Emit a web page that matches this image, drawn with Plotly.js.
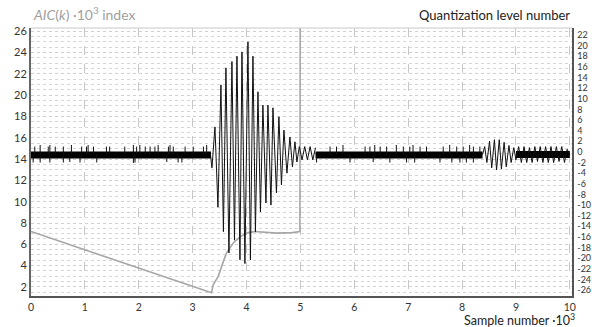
<!DOCTYPE html>
<html>
<head>
<meta charset="utf-8">
<script src="https://cdn.plot.ly/plotly-3.0.1.min.js"></script>
<style>html,body{margin:0;padding:0;background:#fff;}#chart{width:592px;height:327px;}</style>
</head>
<body>
<div id="chart"></div>
<script>
// AIC(k) curve (left axis, x10^3 index) vs sample number (x10^3)
const aicX = [0, 3.35, 3.38, 3.475, 3.57, 3.63, 3.75, 3.88, 4.03, 4.16, 4.56, 4.85, 4.99, 5.0];
const aicY = [7.2, 1.45, 2.2, 3.0, 4.4, 5.2, 6.1, 6.7, 7.1, 7.2, 7.05, 7.1, 7.2, 40];

// Quantized signal: main burst and the tail oscillations (right axis, level number)
const burstX = [3.33, 3.358, 3.414, 3.469, 3.525, 3.571, 3.618, 3.673, 3.729, 3.776, 3.822, 3.878, 3.915, 3.970, 4.026, 4.072, 4.119, 4.165, 4.212, 4.258, 4.304, 4.360, 4.397, 4.453, 4.490, 4.555, 4.601, 4.648, 4.694, 4.750, 4.805, 4.852, 4.898, 4.935, 4.98, 5.03, 5.08, 5.13, 5.18, 5.23, 5.28];
const burstV = [-0.5, -3, 4.7, -10.4, 12.6, -15, 15.8, -19, 17, -16.6, 18, -20.3, 18.8, -21, 20.7, -20.3, 18, -15, 11.3, -11.3, 8.8, -9.6, 8.8, -10, 8.3, -7.7, 6.6, -6.2, 4.1, -4, 2.8, -2.8, 1.9, -1.9, 1, -1.5, 1, -1.5, 1, -1.5, 0.8];

const tailX = [8.38, 8.42, 8.46, 8.51, 8.55, 8.60, 8.64, 8.69, 8.73, 8.78, 8.82, 8.87, 8.91, 8.96, 9.00, 9.05, 9.10, 9.15, 9.20, 9.25, 9.30, 9.35, 9.40, 9.45, 9.50, 9.55, 9.60, 9.65, 9.70, 9.75, 9.80, 9.85, 9.90, 9.95, 10.0];
const tailV = [-0.5, 1, -2, 2, -3, 2.3, -3.4, 2.3, -3.2, 1.8, -2.8, 1.2, -2, 0.8, -1.5, 1, -2, 1, -2, 0.8, -2, 1, -1.8, 1, -2, 1, -2, 1, -2, 1, -1.8, 1, -2, 0.5, -0.5];

// Dense quantization noise band (levels 0 / -1)
const bandX = [0, 3.34, null, 5.28, 8.38, null, 9.0, 10.0];
const bandV = [-0.6, -0.6, null, -0.6, -0.6, null, -0.5, -0.5];

// Isolated noise spikes
const spikeX = [0.07, 0.17, 0.32, 0.35, 0.45, 0.60, 0.75, 0.94, 1.03, 1.06, 1.16, 1.40, 1.46, 1.74, 1.90, 1.96, 2.02, 2.12, 2.21, 2.30, 2.36, 2.55, 2.58, 2.64, 2.86, 3.01, 3.20, 3.26,
  0.04, 0.17, 0.35, 0.60, 0.72, 0.91, 1.22, 1.90, 1.93, 2.52, 2.73, 2.80,
  5.55, 5.67, 5.79, 6.20, 6.29, 6.38, 6.48, 6.60, 6.78, 6.91, 7.03, 7.09, 7.22, 7.34, 7.65, 7.77, 7.90, 8.02, 8.14, 8.21, 8.33,
  5.30, 5.92, 6.35, 6.66, 6.97, 7.12, 7.59, 7.81, 7.96, 8.08, 8.21];
const spikeV = [1, 1.3, 1, 1.3, 1, 1, 1.3, 1, 1, 1.3, 1, 1, 1, 1, 1.3, 1, 1.3, 1, 1, 1, 1.3, 1, 1.3, 1, 1, 1, 1, 1.3,
  -2, -2, -2, -2, -1.9, -2, -2, -2.1, -2, -1.9, -2, -2,
  1, 1, 1.3, 1, 1, 1.3, 1, 1, 1.3, 1, 1, 1.3, 1, 1, 1, 1.3, 1, 1, 1.3, 1, 1,
  -2, -2, -1.9, -2, -2, -2, -2, -2, -2, -2, -2];

// Right-axis tick values (quantization levels)
const levelTicks = [-26, -24, -22, -20, -18, -16, -14, -12, -10, -8, -6, -4, -2, 0, 2, 4, 6, 8, 10, 12, 14, 16, 18, 20, 22];
const levelTickText = levelTicks.map(v => String(v));

const sx = [], sy = [];
spikeX.forEach((x, i) => { sx.push(x, x, null); sy.push(-0.5, spikeV[i], null); });

const FONT = 'Lato, "Open Sans", "Noto Sans", sans-serif';

const traces = [
  {x: aicX, y: aicY, yaxis: 'y', type: 'scatter', mode: 'lines',
   line: {color: '#a6a6a6', width: 1.6}, hoverinfo: 'skip'},
  {x: bandX, y: bandV, yaxis: 'y2', type: 'scatter', mode: 'lines',
   line: {color: '#000', width: 7}, connectgaps: false, hoverinfo: 'skip'},
  {x: sx, y: sy, yaxis: 'y2', type: 'scatter', mode: 'lines',
   line: {color: '#111', width: 1}, connectgaps: false, hoverinfo: 'skip'},
  {x: burstX, y: burstV, yaxis: 'y2', type: 'scatter', mode: 'lines',
   line: {color: '#111', width: 1}, hoverinfo: 'skip'},
  {x: tailX, y: tailV, yaxis: 'y2', type: 'scatter', mode: 'lines',
   line: {color: '#111', width: 1}, hoverinfo: 'skip'}
];

const layout = {
  width: 592, height: 327,
  margin: {l: 31, r: 20, t: 28, b: 31, pad: 0},
  paper_bgcolor: '#fff', plot_bgcolor: '#fff',
  showlegend: false,
  font: {family: FONT, size: 11, color: '#333'},
  xaxis: {
    range: [0, 10.04], tickmode: 'linear', tick0: 0, dtick: 1,
    showgrid: true, gridcolor: '#c8c8c8', gridwidth: 1, griddash: 'dash',
    zeroline: false, showline: true, linecolor: '#555', linewidth: 2,
    mirror: false, ticks: '', ticklen: 0, ticklabelstandoff: 0,
    tickfont: {family: FONT, size: 10.5, color: '#333'}
  },
  yaxis: {
    range: [1.15, 26.3], tickmode: 'linear', tick0: 2, dtick: 2,
    showgrid: true, gridcolor: '#d0d0d0', gridwidth: 1, griddash: 'dot',
    minor: {dtick: 0.5, showgrid: true, gridcolor: '#d6d6d6', griddash: 'dot', gridwidth: 1},
    zeroline: false, showline: true, linecolor: '#666', linewidth: 2,
    ticks: '', ticklen: 0, tickfont: {family: FONT, size: 11, color: '#333'}
  },
  yaxis2: {
    overlaying: 'y', side: 'right', range: [-27.1, 23.3],
    tickmode: 'array', tickvals: levelTicks, ticktext: levelTickText,
    showgrid: false, zeroline: false, showline: true, linecolor: '#555', linewidth: 1.5,
    ticks: '', ticklen: 0, ticklabelstandoff: 2,
    tickfont: {family: FONT, size: 9, color: '#333'}
  },
  shapes: [
    {type: 'line', xref: 'paper', yref: 'paper', x0: 0, x1: 1, y0: 1, y1: 1,
     line: {color: '#c8c8c8', width: 1}}
  ],
  annotations: [
    {text: '<i>AIC</i>(<i>k</i>) ·10<sup>3</sup> index', xref: 'paper', yref: 'paper',
     x: 0, y: 1, xanchor: 'left', yanchor: 'bottom', yshift: 3, showarrow: false,
     font: {family: FONT, size: 14, color: '#a0a0a0'}},
    {text: 'Quantization level number', xref: 'paper', yref: 'paper',
     x: 1, y: 1, xanchor: 'right', yanchor: 'bottom', yshift: 3, showarrow: false,
     font: {family: FONT, size: 13, color: '#222'}},
    {text: 'Sample number ·10<sup>3</sup>', xref: 'paper', yref: 'paper',
     x: 1, y: 0, xanchor: 'right', yanchor: 'top', xshift: 5, yshift: -13, showarrow: false,
     font: {family: FONT, size: 12.5, color: '#222'}}
  ]
};

Plotly.newPlot('chart', traces, layout, {staticPlot: true, displayModeBar: false});
</script>
</body>
</html>
